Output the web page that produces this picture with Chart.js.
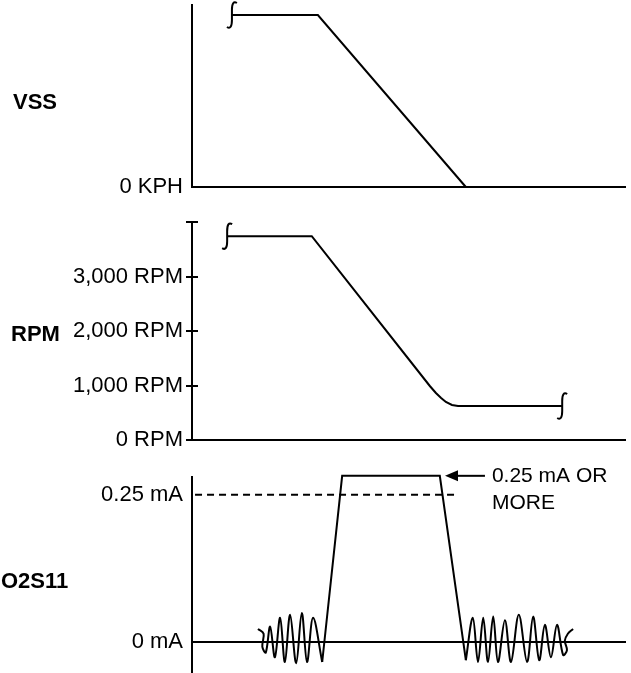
<!DOCTYPE html>
<html>
<head>
<meta charset="utf-8">
<script src="https://cdn.jsdelivr.net/npm/chart.js@4.4.1/dist/chart.umd.min.js"></script>
<style>
  html, body { margin: 0; padding: 0; background: #fff; overflow: hidden; }
  #wrap { position: relative; width: 631px; height: 673px; }
  #wrap canvas { position: absolute; left: 0; }
</style>
</head>
<body>
<div id="wrap">
  <canvas id="vssChart" width="631" height="202" style="top:0px"></canvas>
  <canvas id="rpmChart" width="631" height="255" style="top:200px"></canvas>
  <canvas id="o2Chart" width="631" height="223" style="top:450px"></canvas>
</div>
<script>
// time runs 0..100 across every panel
const vssTime = [9.2, 29.0, 63.1];
const vssKph = [94.5, 94.5, 0];
const vssTicks = [0];
const vssTickLabels = ["0 KPH"];

const rpmTime = [8.1, 27.6, 54.8, 56.2, 57.4, 58.5, 59.9, 61.3, 62.4, 85.3];
const rpmValues = [3740, 3740, 991, 862, 771, 697, 642, 626, 624, 624];
const rpmTicks = [0, 1000, 2000, 3000, 4000];
const rpmTickLabels = ["0 RPM", "1,000 RPM", "2,000 RPM", "3,000 RPM", ""];

const o2InTime = [15.2, 16.5, 16.2, 17.0, 18.0, 19.1, 20.3, 21.4, 22.6, 24.0, 25.3, 26.5, 27.9, 30.0];
const o2InMa = [0.022, 0.014, -0.008, -0.018, 0.026, -0.026, 0.041, -0.034, 0.046, -0.036, 0.049, -0.034, 0.041, -0.034];
const o2PulseTime = [30.0, 34.6, 57.1, 63.1];
const o2PulseMa = [-0.034, 0.282, 0.282, -0.031];
const o2OutTime = [63.1, 64.7, 65.9, 67.1, 68.2, 69.4, 70.5, 72.1, 73.5, 75.3, 77.2, 78.6, 80.0, 81.3, 82.7, 84.1, 85.5, 86.4, 85.9, 86.6, 87.8];
const o2OutMa = [-0.031, 0.041, -0.034, 0.041, -0.034, 0.043, -0.034, 0.037, -0.034, 0.046, -0.034, 0.043, -0.031, 0.029, -0.026, 0.029, -0.022, -0.014, 0.002, 0.014, 0.022];
const thresholdTime = [0.7, 61.2];
const thresholdMa = [0.25, 0.25];
const o2Ticks = [0, 0.25];
const o2TickLabels = ["0 mA", "0.25 mA"];

const noteLines = ["0.25 mA OR", "MORE"];
const noteTip = [58.3, 0.282];
const noteTail = 67.5;
const noteTextAt = 69.1;

const FONT = "'Liberation Sans', Arial, sans-serif";
const AXIS_LEFT = 192;

const pts = (xs, ys) => xs.map((x, i) => ({ x: x, y: ys[i] }));

const line = (data, extra) => Object.assign({
  data: data,
  borderColor: "#000",
  borderWidth: 2,
  pointRadius: 0,
  tension: 0,
  fill: false,
  clip: false
}, extra || {});

// little "integral" break mark at the loose end of a trace
function drawBreak(ctx, x, y) {
  ctx.beginPath();
  ctx.moveTo(x + 5, y - 12);
  ctx.quadraticCurveTo(x, y - 15, x, y - 5);
  ctx.lineTo(x, y + 5);
  ctx.quadraticCurveTo(x, y + 15, x - 5, y + 12);
  ctx.stroke();
}

const extras = {
  id: "extras",
  afterDraw(chart) {
    const o = chart.options.plugins.extras;
    const ctx = chart.ctx;
    const xs = chart.scales.x, ys = chart.scales.y;
    ctx.save();
    ctx.strokeStyle = "#000";
    ctx.fillStyle = "#000";
    ctx.lineWidth = 2;

    chart.data.datasets.forEach((ds, i) => {
      const pts = chart.getDatasetMeta(i).data;
      if (ds.breakStart) drawBreak(ctx, pts[0].x, pts[0].y);
      if (ds.breakEnd) drawBreak(ctx, pts[pts.length - 1].x, pts[pts.length - 1].y);
    });

    if (o.innerTicks) {
      ys.ticks.forEach(t => {
        if (t.value === 0) return;
        const py = Math.round(ys.getPixelForValue(t.value));
        ctx.beginPath();
        ctx.moveTo(chart.chartArea.left, py);
        ctx.lineTo(chart.chartArea.left + 6, py);
        ctx.stroke();
      });
    }

    if (o.note) {
      const tx = xs.getPixelForValue(noteTip[0]);
      const ty = ys.getPixelForValue(noteTip[1]);
      ctx.beginPath();
      ctx.moveTo(tx + 11, ty);
      ctx.lineTo(xs.getPixelForValue(noteTail), ty);
      ctx.stroke();
      ctx.beginPath();
      ctx.moveTo(tx, ty);
      ctx.lineTo(tx + 13, ty - 5.5);
      ctx.lineTo(tx + 13, ty + 5.5);
      ctx.closePath();
      ctx.fill();
      ctx.font = "21px " + FONT;
      ctx.textAlign = "left";
      ctx.textBaseline = "middle";
      noteLines.forEach((s, k) => ctx.fillText(s, xs.getPixelForValue(noteTextAt), ty + k * 27));
    }

    ctx.font = "bold 22px " + FONT;
    ctx.textAlign = "left";
    ctx.textBaseline = "middle";
    ctx.fillText(o.title, o.titleX, ys.getPixelForValue(o.titleAt));
    ctx.restore();
  }
};

function panel(canvasId, datasets, cfg) {
  return new Chart(document.getElementById(canvasId), {
    type: "line",
    data: { datasets: datasets },
    plugins: [extras],
    options: {
      responsive: false,
      animation: false,
      devicePixelRatio: 1,
      layout: { padding: cfg.padding },
      plugins: {
        legend: { display: false },
        tooltip: { enabled: false },
        extras: cfg.extras
      },
      scales: {
        x: { type: "linear", min: 0, max: 100, display: false },
        y: {
          type: "linear",
          min: cfg.min,
          max: cfg.max,
          afterBuildTicks: s => { s.ticks = cfg.ticks.map(v => ({ value: v })); },
          afterFit: s => { s.width = AXIS_LEFT; s.paddingTop = 0; s.paddingBottom = 0; },
          ticks: {
            padding: cfg.tickPad,
            color: "#000",
            font: { family: FONT, size: 22 },
            callback: (v, i) => cfg.labels[i]
          },
          grid: {
            drawOnChartArea: true,
            drawTicks: cfg.tickLen > 0,
            tickLength: cfg.tickLen,
            lineWidth: 2,
            color: c => (c.tick && c.tick.value === 0 ? "#000" : "rgba(0,0,0,0)"),
            tickColor: "#000"
          },
          border: { display: true, color: "#000", width: 2 }
        }
      }
    }
  });
}

panel("vssChart", [line(pts(vssTime, vssKph), { breakStart: true })], {
  padding: { top: 5, bottom: 15, left: 0, right: 5 },
  min: 0, max: 100,
  ticks: vssTicks, labels: vssTickLabels,
  tickPad: 9, tickLen: 0,
  extras: { title: "VSS", titleX: 13, titleAt: 46 }
});

panel("rpmChart", [line(pts(rpmTime, rpmValues), { breakStart: true, breakEnd: true })], {
  padding: { top: 22, bottom: 15, left: 0, right: 5 },
  min: 0, max: 4000,
  ticks: rpmTicks, labels: rpmTickLabels,
  tickPad: 3, tickLen: 6,
  extras: { title: "RPM", titleX: 11, titleAt: 1920, innerTicks: true }
});

panel("o2Chart", [
  line(pts(thresholdTime, thresholdMa), { borderDash: [7, 5] }),
  line(pts(o2InTime, o2InMa), { tension: 0.35 }),
  line(pts(o2PulseTime, o2PulseMa)),
  line(pts(o2OutTime, o2OutMa), { tension: 0.35 })
], {
  padding: { top: 27, bottom: 1, left: 0, right: 5 },
  min: -0.051, max: 0.28,
  ticks: o2Ticks, labels: o2TickLabels,
  tickPad: 9, tickLen: 0,
  extras: { title: "O2S11", titleX: 1, titleAt: 0.102, note: true }
});
</script>
</body>
</html>
